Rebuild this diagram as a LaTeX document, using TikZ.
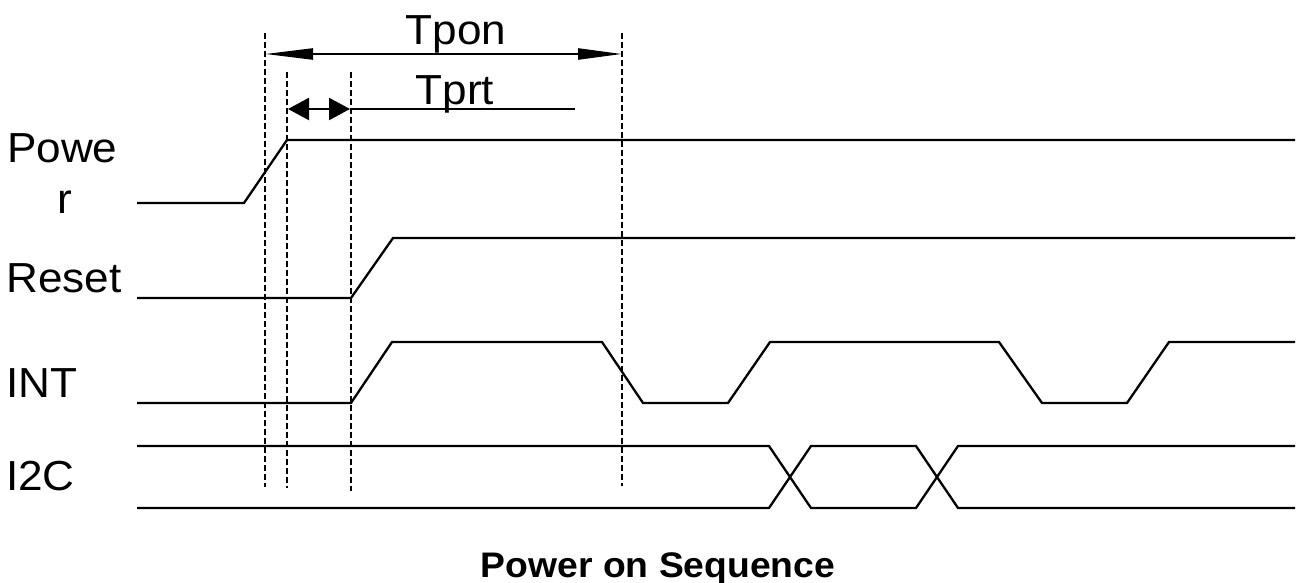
\documentclass[tikz,border=0pt]{standalone}
\usepackage{fontspec}
\setmainfont[FakeStretch=1.05]{Liberation Sans}
\usetikzlibrary{arrows.meta}
\begin{document}
\begin{tikzpicture}[x=1pt,y=-1pt,
  sig/.style={line width=2.3pt, line join=miter},
  guide/.style={line width=2.6pt, dash pattern=on 6pt off 3pt},
  lbl/.style={font=\fontsize{42}{50}\selectfont, inner sep=0pt},
  longtips/.style={line width=2.3pt, {Triangle[length=48pt,width=11pt]}-{Triangle[length=44pt,width=11pt]}},
  shorttips/.style={line width=2.3pt, {Triangle[length=21pt,width=22pt,fill=black]}-{Triangle[length=21pt,width=22pt,fill=black]}}
]
\useasboundingbox (0,0) rectangle (1298,583);
\fill[white] (0,0) rectangle (1298,583);

% guide lines
\coordinate (d1t) at (265,33);  \coordinate (d1b) at (265,487);
\coordinate (d2t) at (287,72);  \coordinate (d2b) at (287,488);
\coordinate (d3t) at (351,72);  \coordinate (d3b) at (351,491);
\coordinate (d4t) at (622,33);  \coordinate (d4b) at (622,486);
\draw[guide] (d1t) -- (d1b);
\draw[guide] (d2t) -- (d2b);
\draw[guide] (d3t) -- (d3b);
\draw[guide] (d4t) -- (d4b);

% timing arrows
\coordinate (pL) at (265,54); \coordinate (pR) at (622,54);
\draw[longtips] (pL) -- (pR);
\coordinate (rL) at (288,109); \coordinate (rM) at (350,109); \coordinate (rE) at (575,109);
\draw[shorttips] (rL) -- (rM);
\draw[sig] (rM) -- (rE);

\node[lbl, anchor=base] (tpon) at (456,45) {Tpon};
\node[lbl, anchor=base] (tprt) at (455,105) {Tprt};

% signal labels
\node[lbl, anchor=base west] (powe) at (7,162) {Powe};
\node[lbl, anchor=base] (powr) at (65,213) {r};
\node[lbl, anchor=base west] (reset) at (6,292) {Reset};
\node[lbl, anchor=base west] (int) at (6,397) {INT};
\node[lbl, anchor=base west] (i2c) at (6,490) {I2C};

% signals
\draw[sig] (137,203) -- (244,203) -- (287,140) -- (1295,140);
\draw[sig] (137,298) -- (351,298) -- (393,238) -- (1295,238);
\draw[sig] (137,403) -- (351,403) -- (392,342) -- (602,342) -- (643,403) -- (728,403)
  -- (770,342) -- (999,342) -- (1042,403) -- (1127,403) -- (1169,342) -- (1295,342);
\draw[sig] (137,446) -- (769,446) -- (811,508) -- (916,508) -- (958,446) -- (1295,446);
\draw[sig] (137,508) -- (769,508) -- (811,446) -- (916,446) -- (958,508) -- (1295,508);

% caption
\node[font=\bfseries\fontsize{35.5}{40}\selectfont, anchor=base, inner sep=0pt] (cap) at (658,577) {Power on Sequence};
\end{tikzpicture}
\end{document}
